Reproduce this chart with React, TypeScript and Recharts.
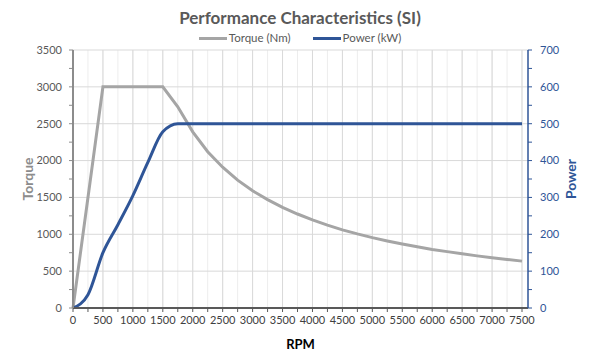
import React from 'react';
import { LineChart, Line, XAxis, YAxis, CartesianGrid, Legend, Label } from 'recharts';

const rpm = [
  0, 250, 500, 750, 1000, 1250, 1500, 1750, 2000, 2250, 2500, 2750, 3000, 3250, 3500, 3750,
  4000, 4250, 4500, 4750, 5000, 5250, 5500, 5750, 6000, 6250, 6500, 6750, 7000, 7250, 7500,
];
const torqueNm = [
  0, 1500, 3000, 3000, 3000, 3000, 3000, 2730, 2390, 2120, 1910, 1735, 1590, 1470, 1365, 1275,
  1195, 1125, 1060, 1005, 955, 910, 868, 830, 795, 765, 735, 707, 682, 658, 636,
];
const powerKw = [
  0, 36, 150, 226, 305, 395, 478, 500, 500, 500, 500, 500, 500, 500, 500, 500,
  500, 500, 500, 500, 500, 500, 500, 500, 500, 500, 500, 500, 500, 500, 500,
];

const xTicks = rpm;
const torqueTicks = [0, 250, 500, 750, 1000, 1250, 1500, 1750, 2000, 2250, 2500, 2750, 3000, 3250, 3500];
const powerTicks = [0, 50, 100, 150, 200, 250, 300, 350, 400, 450, 500, 550, 600, 650, 700];
const majorX = [500, 1000, 1500, 2000, 2500, 3000, 3500, 4000, 4500, 5000, 5500, 6000, 6500, 7000, 7500];
const majorTorque = [500, 1000, 1500, 2000, 2500, 3000, 3500];

const data = rpm.map((r, i) => ({ rpm: r, torque: torqueNm[i], power: powerKw[i] }));

const GRAY = '#a5a5a5';
const BLUE = '#2f5597';
const FONT = 'Lato, "Open Sans", sans-serif';

const LegendContent = () => (
  <div style={{ display: 'flex', justifyContent: 'center', gap: 22, height: 14, lineHeight: '14px', fontFamily: FONT, fontSize: 11.5, color: '#595959' }}>
    <div style={{ display: 'flex', alignItems: 'center' }}>
      <span style={{ display: 'inline-block', width: 28, height: 3, background: GRAY, marginRight: 2 }} />
      Torque (Nm)
    </div>
    <div style={{ display: 'flex', alignItems: 'center' }}>
      <span style={{ display: 'inline-block', width: 28, height: 3, background: BLUE, marginRight: 2 }} />
      Power (kW)
    </div>
  </div>
);

const App = () => {
  return (
    <div style={{ position: 'absolute', left: 0, top: 0, width: 600, height: 360, background: '#fff' }}>
      <div
        style={{
          position: 'absolute',
          top: 7,
          left: 0,
          width: 600,
          textAlign: 'center',
          fontFamily: FONT,
          fontWeight: 700,
          fontSize: 17,
          color: '#595959',
        }}
      >
        Performance Characteristics (SI)
      </div>
      <LineChart width={600} height={360} data={data} margin={{ top: 36, right: 0, bottom: 0, left: 0 }}>
        <CartesianGrid yAxisId="left" horizontal={false} verticalValues={xTicks} stroke="#ededed" />
        <CartesianGrid yAxisId="left" horizontalValues={majorTorque} verticalValues={majorX} stroke="#d9d9d9" />
        <XAxis
          dataKey="rpm"
          type="number"
          domain={[0, 7600]}
          ticks={xTicks}
          interval={0}
          height={52}
          tickFormatter={(v: number) => (v % 500 === 0 ? String(v) : '')}
          tick={{ fill: '#404040', fontSize: 11, fontFamily: FONT }}
          tickSize={4}
          tickMargin={4}
          axisLine={{ stroke: '#595959', strokeWidth: 2 }}
          tickLine={{ stroke: '#595959' }}
        >
          <Label value="RPM" position="insideBottom" offset={11} style={{ fill: '#000', fontWeight: 700, fontSize: 13, fontFamily: FONT }} />
        </XAxis>
        <YAxis
          yAxisId="left"
          width={73}
          domain={[0, 3500]}
          ticks={torqueTicks}
          interval={0}
          tickFormatter={(v: number) => (v % 500 === 0 ? String(v) : '')}
          tick={{ fill: '#595959', fontSize: 11, fontFamily: FONT }}
          tickSize={4}
          tickMargin={7}
          axisLine={{ stroke: '#8c8c8c', strokeWidth: 2 }}
          tickLine={{ stroke: '#8c8c8c' }}
        >
          <Label value="Torque" angle={-90} position="insideLeft" offset={28} style={{ fill: '#8c8c8c', fontWeight: 700, fontSize: 14, fontFamily: FONT, textAnchor: 'middle' }} />
        </YAxis>
        <YAxis
          yAxisId="right"
          orientation="right"
          width={72}
          domain={[0, 700]}
          ticks={powerTicks}
          interval={0}
          tickFormatter={(v: number) => (v % 100 === 0 ? String(v) : '')}
          tick={{ fill: BLUE, fontSize: 11, fontFamily: FONT }}
          tickSize={4}
          tickMargin={8}
          axisLine={{ stroke: BLUE, strokeWidth: 1.5 }}
          tickLine={{ stroke: BLUE }}
        >
          <Label value="Power" angle={-90} position="insideRight" offset={29} style={{ fill: BLUE, fontWeight: 700, fontSize: 14, fontFamily: FONT, textAnchor: 'middle' }} />
        </YAxis>
        <Legend verticalAlign="top" content={<LegendContent />} wrapperStyle={{ top: 31, left: 0, width: 600 }} />
        <Line
          yAxisId="left"
          type="linear"
          dataKey="torque"
          name="Torque (Nm)"
          stroke={GRAY}
          strokeWidth={3}
          dot={false}
          isAnimationActive={false}
        />
        <Line
          yAxisId="right"
          type="monotone"
          dataKey="power"
          name="Power (kW)"
          stroke={BLUE}
          strokeWidth={3}
          dot={false}
          isAnimationActive={false}
        />
      </LineChart>
    </div>
  );
};

export default App;
